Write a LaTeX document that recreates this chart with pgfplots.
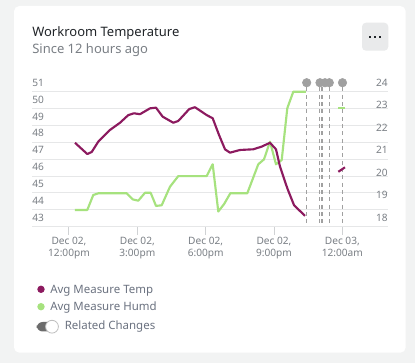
\documentclass[border=0pt]{standalone}
\usepackage{pgfplots}
\pgfplotsset{compat=1.18}
\usepackage{fontspec}
\setmainfont{Noto Sans}
\definecolor{bgc}{HTML}{F2F3F3}
\definecolor{btn}{HTML}{E9EAEB}
\definecolor{tempc}{HTML}{8C1A5F}
\definecolor{humc}{HTML}{A6E27E}
\definecolor{gridc}{HTML}{E6E7E8}
\definecolor{tickc}{HTML}{7A7F85}
\definecolor{legc}{HTML}{6B7280}
\definecolor{titlec}{HTML}{212529}
\definecolor{dotc}{HTML}{A0A0A0}
\definecolor{tickline}{HTML}{D0D2D4}
\begin{document}
\begin{tikzpicture}
\begin{scope}[x=0.75pt,y=-0.75pt]
\fill[bgc] (0,0) rectangle (415,363);
\fill[white, rounded corners=4pt] (14,6) rectangle (405.7,352.7);
\fill[btn, rounded corners=3pt] (362,22.7) rectangle (388.3,50.7);
\foreach \xx in {370,375,380} \fill[titlec] (\xx-1,36) rectangle (\xx+1,38);
\node[anchor=base west, inner sep=0pt, text=titlec, font=\fontsize{9.75}{11}\selectfont\bfseries] at (32,36.7) {Workroom Temperature};
\node[anchor=base west, inner sep=0pt, text=tickc, font=\fontsize{9.75}{11}\selectfont] at (32,54) {Since 12 hours ago};
% legend
\fill[tempc] (41,289.3) circle (3.7);
\node[anchor=base west, inner sep=0pt, text=legc, font=\fontsize{8.6}{10}\selectfont] at (50,293.3) {Avg Measure Temp};
\fill[humc] (41,306.7) circle (3.7);
\node[anchor=base west, inner sep=0pt, text=legc, font=\fontsize{8.6}{10}\selectfont] at (50,311) {Avg Measure Humd};
\fill[gray!85!black, rounded corners=4.5pt] (36.7,322) rectangle (58,331.5);
\filldraw[fill=white, draw=gray!50, line width=0.6pt] (52,326.7) circle (6.4);
\node[anchor=base west, inner sep=0pt, text=legc, font=\fontsize{8.6}{10}\selectfont] at (64.5,330) {Related Changes};
\end{scope}
\begin{axis}[
  at={(24pt,-170.025pt)}, anchor=south west,
  scale only axis, width=267pt, height=101.25pt,
  xmin=10.376, xmax=26.004, ymin=43, ymax=51,
  ytick={43,44,...,51},
  xtick={12,15,18,21,24},
  xticklabels={{Dec 02,\\12:00pm},{Dec 02,\\3:00pm},{Dec 02,\\6:00pm},{Dec 02,\\9:00pm},{Dec 03,\\12:00am}},
  xticklabel style={align=center, inner sep=0pt, font=\fontsize{7.6}{9}\selectfont, text=tickc, yshift=-2pt},
  yticklabel style={anchor=base west, inner sep=0pt, yshift=4pt, font=\fontsize{7.6}{9}\selectfont, text=tickc},
  /pgf/number format/assume math mode=true,
  ymajorgrids, grid style={gridc, line width=0.75pt},
  axis line style={draw=none},
  xtick align=outside, ytick align=inside,
  xtick pos=bottom,
  major tick length=6pt,
  xtick style={draw=tickline, line width=0.75pt},
  ytick style={draw=none},
  clip=false,
]
\addplot[dotc, line width=0.75pt, dash pattern=on 3pt off 2.5pt] coordinates {(22.435,51.25) (22.435,43)};
\addplot[dotc, line width=0.75pt, dash pattern=on 3pt off 2.5pt] coordinates {(22.988,51.25) (22.988,43)};
\addplot[dotc, line width=0.75pt, dash pattern=on 3pt off 2.5pt] coordinates {(23.076,51.25) (23.076,43)};
\addplot[dotc, line width=0.75pt, dash pattern=on 3pt off 2.5pt] coordinates {(23.137,51.25) (23.137,43)};
\addplot[dotc, line width=0.75pt, dash pattern=on 3pt off 2.5pt] coordinates {(23.427,51.25) (23.427,43)};
\addplot[dotc, line width=0.75pt, dash pattern=on 3pt off 2.5pt] coordinates {(24.006,51.25) (24.006,43)};
\addplot[dotc, only marks, mark=*, mark size=3.2pt, mark options={draw=dotc, fill=dotc, solid}] coordinates {(22.435,51.533) (23.018,51.533) (23.238,51.533) (23.427,51.533) (24.006,51.533)};
\addplot[humc, line width=1.6pt, line join=round] coordinates {
(12.263,43.99) (12.803,43.99) (13.067,44.88) (13.286,44.98) (14.533,44.98) (14.796,44.62) (15.042,44.54) (15.336,45.01) (15.587,45.01) (15.819,44.23) (16.069,44.27) (16.434,45.37) (16.798,46.00) (18.045,46.00) (18.308,46.70) (18.554,43.90) (18.813,44.35) (19.081,44.98) (19.827,44.98) (20.310,46.70) (20.560,46.99) (20.824,48.04) (21.087,46.70) (21.338,46.95) (21.583,50.02) (21.847,51.0) (22.404,51.0)};
\addplot[humc, line width=1.6pt] coordinates {(23.822,50.02) (24.116,50.02)};
\end{axis}
\begin{axis}[
  at={(24pt,-170.025pt)}, anchor=south west,
  scale only axis, width=267pt, height=101.25pt,
  xmin=10.376, xmax=26.004, ymin=18, ymax=24,
  ytick={18,19,...,24},
  hide x axis,
  axis y line*=right,
  y axis line style={draw=none},
  yticklabel style={anchor=base east, inner sep=0pt, yshift=4pt, font=\fontsize{7.6}{9}\selectfont, text=tickc},
  /pgf/number format/assume math mode=true,
  major tick length=0pt,
  ytick style={draw=none},
  clip=false,
]
\addplot[tempc, line width=1.6pt, line join=round] coordinates {
(12.263,21.73) (12.803,21.23) (12.997,21.32) (13.286,21.78) (13.80,22.30) (14.239,22.62) (14.603,22.96) (14.853,23.04) (15.117,23.00) (15.556,23.26) (15.819,23.29) (16.113,22.89) (16.579,22.62) (16.798,22.70) (17.281,23.23) (17.531,23.31) (18.045,22.96) (18.308,22.82) (18.585,22.08) (18.848,21.44) (19.068,21.29) (19.507,21.41) (20.091,21.44) (20.459,21.56) (20.824,21.73) (21.087,21.44) (21.263,20.67) (21.583,19.71) (21.877,18.96) (22.36,18.48)};
\addplot[tempc, line width=1.6pt] coordinates {(23.822,20.44) (24.116,20.64)};
\end{axis}
\end{tikzpicture}
\end{document}
